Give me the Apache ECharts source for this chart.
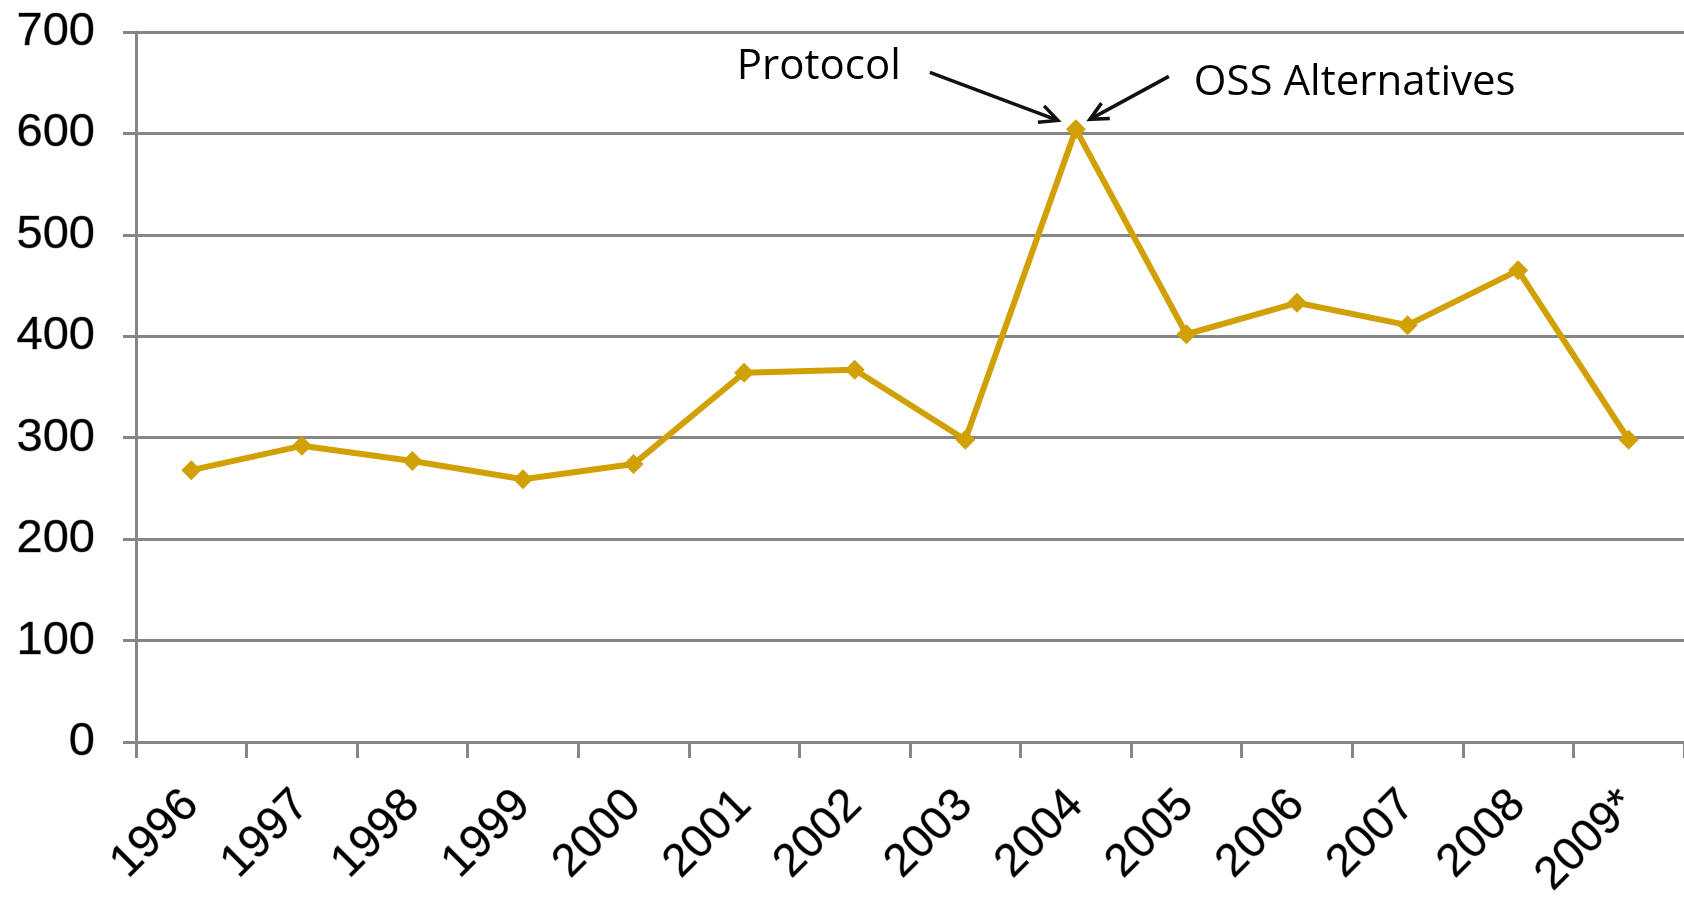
<!DOCTYPE html>
<html>
<head>
<meta charset="utf-8">
<script src="https://cdn.jsdelivr.net/npm/echarts@6/dist/echarts.min.js"></script>
<style>
  html, body { margin: 0; padding: 0; background: #fff; }
  #chart { width: 1684px; height: 906px; }
</style>
</head>
<body>
<div id="chart"></div>
<script>
var years = ['1996', '1997', '1998', '1999', '2000', '2001', '2002', '2003', '2004', '2005', '2006', '2007', '2008', '2009*'];
var counts = [268, 292, 277, 259, 274, 364, 367, 298, 604, 402, 433, 411, 465, 298];
var yTicks = [0, 100, 200, 300, 400, 500, 600, 700];
var notes = ['Protocol', 'OSS Alternatives'];

var gray = '#868686';
var gold = '#d1a004';

var chart = echarts.init(document.getElementById('chart'));

chart.setOption({
    animation: false,
    grid: { left: 136, right: 0, top: 32, bottom: 164 },
    xAxis: {
        type: 'category',
        data: years,
        boundaryGap: true,
        axisLine: { lineStyle: { color: gray, width: 3 } },
        axisTick: { show: true, interval: 0, length: 16, lineStyle: { color: gray, width: 3 } },
        axisLabel: {
            interval: 0,
            rotate: 45,
            margin: 56,
            fontFamily: 'Liberation Sans',
            fontSize: 46,
            color: '#000',
            textBorderColor: 'rgba(0,0,0,0.35)',
            textBorderWidth: 1
        }
    },
    yAxis: {
        type: 'value',
        min: yTicks[0],
        max: yTicks[yTicks.length - 1],
        interval: 100,
        axisLine: { show: true, lineStyle: { color: gray, width: 3 } },
        axisTick: { show: true, length: 13, lineStyle: { color: gray, width: 3 } },
        splitLine: { lineStyle: { color: gray, width: 3 } },
        axisLabel: {
            margin: 41,
            fontFamily: 'Liberation Sans',
            fontSize: 47,
            color: '#000',
            textBorderColor: 'rgba(0,0,0,0.35)',
            textBorderWidth: 1
        }
    },
    series: [{
        type: 'line',
        data: counts,
        symbol: 'diamond',
        symbolSize: 20,
        lineStyle: { color: gold, width: 6 },
        itemStyle: { color: gold }
    }]
});

// 注释箭头，相对2004年的峰值点定位
var peak = chart.convertToPixel({ seriesIndex: 0 }, [8, counts[8]]);

function arrow(x1, y1, x2, y2) {
    var ang = Math.atan2(y2 - y1, x2 - x1);
    var len = 20, spread = 0.45;
    var a = [x2 - len * Math.cos(ang - spread), y2 - len * Math.sin(ang - spread)];
    var b = [x2 - len * Math.cos(ang + spread), y2 - len * Math.sin(ang + spread)];
    return [
        { type: 'line', shape: { x1: x1, y1: y1, x2: x2, y2: y2 }, style: { stroke: '#111', lineWidth: 3.5 } },
        { type: 'polyline', shape: { points: [a, [x2, y2], b] }, style: { stroke: '#111', lineWidth: 3.5, fill: null } }
    ];
}

var px = peak[0], py = peak[1];
var elements = []
    .concat(arrow(px - 146, py - 57, px - 18, py - 9))
    .concat(arrow(px + 93, py - 53, px + 14, py - 10));

elements.push({
    type: 'text', x: px - 339, y: py - 62,
    style: { text: notes[0], fontFamily: 'Open Sans', fontSize: 42, fill: '#000', verticalAlign: 'middle' }
});
elements.push({
    type: 'text', x: px + 118, y: py - 46,
    style: { text: notes[1], fontFamily: 'Open Sans', fontSize: 42, fill: '#000', verticalAlign: 'middle' }
});

chart.setOption({ graphic: { elements: elements } });
</script>
</body>
</html>
